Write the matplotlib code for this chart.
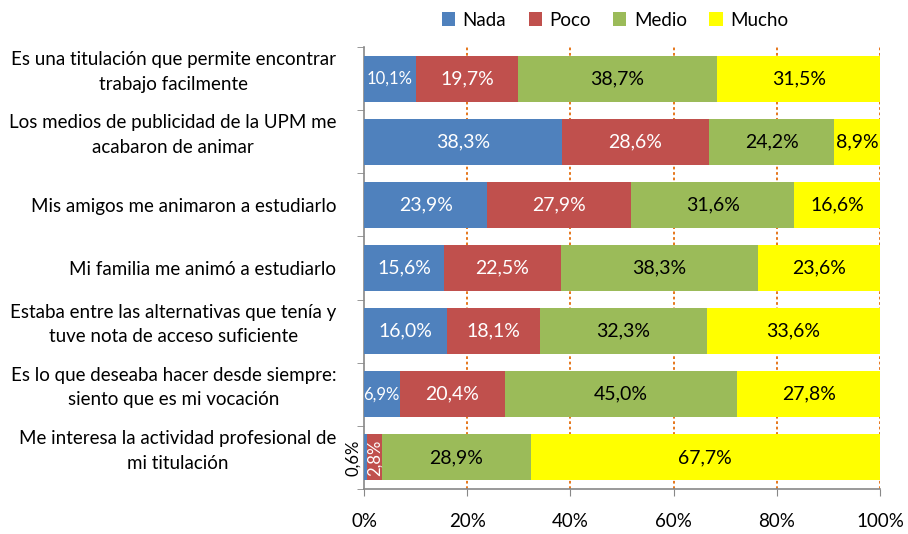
import matplotlib
matplotlib.use("Agg")
import matplotlib.pyplot as plt
import matplotlib.transforms as mtransforms
import numpy as np

plt.rcParams['font.family'] = ['Lato', 'DejaVu Sans']

categories = [
    "Es una titulación que permite encontrar\ntrabajo facilmente",
    "Los medios de publicidad de la UPM me\nacabaron de animar",
    "Mis amigos me animaron a estudiarlo",
    "Mi familia me animó a estudiarlo",
    "Estaba entre las alternativas que tenía y\ntuve nota de acceso suficiente",
    "Es lo que deseaba hacer desde siempre:\nsiento que es mi vocación",
    "Me interesa la actividad profesional de\nmi titulación",
]
series_names = ["Nada", "Poco", "Medio", "Mucho"]
nada = [10.1, 38.3, 23.9, 15.6, 16.0, 6.9, 0.6]
poco = [19.7, 28.6, 27.9, 22.5, 18.1, 20.4, 2.8]
medio = [38.7, 24.2, 31.6, 38.3, 32.3, 45.0, 28.9]
mucho = [31.5, 8.9, 16.6, 23.6, 33.6, 27.8, 67.7]
tick_labels = ["0%", "20%", "40%", "60%", "80%", "100%"]

colors = ["#4F81BD", "#C0504D", "#9BBB59", "#FFFF00"]
text_colors = ["white", "white", "black", "black"]

fig = plt.figure(figsize=(9.08, 5.34), dpi=100)
ax = fig.add_axes([364/908, 1-489/534, (880-364)/908, (489-47)/534])

data = [nada, poco, medio, mucho]
n = len(categories)
y = np.arange(n)
left = np.zeros(n)
for k, (vals, c) in enumerate(zip(data, colors)):
    vals = np.array(vals)
    ax.barh(y, vals, left=left, height=0.73, color=c, label=series_names[k], zorder=3)
    for i in range(n):
        v = vals[i]
        cx = left[i] + v/2
        txt = f"{v:.1f}%".replace(".", ",")
        if v < 2:
            ax.text(left[i] - 2.2, y[i], txt, rotation=90, ha='center', va='center',
                    fontsize=12, color='black', zorder=4)
        elif v < 5:
            ax.text(cx, y[i], txt, rotation=90, ha='center', va='center',
                    fontsize=12, color=text_colors[k], zorder=4, clip_on=False)
        elif v < 11 and k < 2:
            ax.text(cx, y[i], txt, ha='center', va='center',
                    fontsize=12, color=text_colors[k], zorder=4)
        else:
            ax.text(cx, y[i], txt, ha='center', va='center',
                    fontsize=14, color=text_colors[k], zorder=4)
    left = left + vals

ax.set_xlim(0, 100)
ax.set_ylim(n - 0.5, -0.5)
ax.set_xticks([0, 20, 40, 60, 80, 100])
ax.set_xticklabels(tick_labels, fontsize=13.5)
ax.tick_params(axis='x', length=5, color='#888888', pad=12)
ax.set_yticks(y)
ax.set_yticklabels(categories, fontsize=13.5, multialignment='center', linespacing=1.55)
ax.tick_params(axis='y', length=0, pad=20)
ax.set_yticks(np.arange(-0.5, n, 1), minor=True)
ax.tick_params(axis='y', which='minor', length=5, color='#888888')

shift = mtransforms.ScaledTranslation(0, 12/100, fig.dpi_scale_trans)
for lab in ax.get_yticklabels():
    if "\n" in lab.get_text():
        lab.set_transform(lab.get_transform() + shift)

for xv in [20, 40, 60, 80, 100]:
    ax.axvline(xv, color='#E46C0A', linestyle=(0, (1.5, 1.5)), linewidth=1.3, zorder=1)

for s in ['top', 'right']:
    ax.spines[s].set_visible(False)
ax.spines['left'].set_color('#888888')
ax.spines['bottom'].set_color('#888888')
ax.spines['left'].set_linewidth(1.2)
ax.spines['bottom'].set_linewidth(1.2)

leg = fig.legend(loc='center', bbox_to_anchor=(615/908, 1-20/534), ncol=4, frameon=False,
                 fontsize=13.5, handlelength=0.7, handleheight=0.7, handletextpad=0.4,
                 columnspacing=1.2)

fig.savefig("out.png", dpi=100)
